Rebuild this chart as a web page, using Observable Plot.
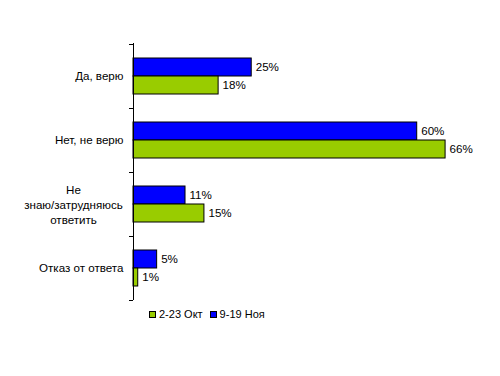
<!DOCTYPE html>
<html>
<head>
<meta charset="utf-8">
<script src="https://cdn.jsdelivr.net/npm/d3@7"></script>
<script src="https://cdn.jsdelivr.net/npm/@observablehq/plot@0.6"></script>
<style>
  body { margin: 0; background: #fff; font-family: "Liberation Sans", Arial, sans-serif; }
  #legend { display: flex; align-items: center; font-size: 11px; padding-left: 149px; height: 16px; margin-top: 0; }
  #legend .item { display: flex; align-items: center; margin-right: 7px; }
  #legend .sw { width: 5px; height: 5px; border: 1px solid #000; margin-right: 3px; }
</style>
</head>
<body>
<div id="chart"></div>
<div id="legend"></div>
<script>
const categories = ["Да, верю", "Нет, не верю", "Не\nзнаю/затрудняюсь\nответить", "Отказ от ответа"];
const series = ["2-23 Окт", "9-19 Ноя"];
const octValues = [18, 66, 15, 1];
const novValues = [25, 60, 11, 5];
const colors = ["#99CC00", "#0000FF"];

const octData = categories.map((c, i) => ({category: c, series: series[0], value: octValues[i]}));
const novData = categories.map((c, i) => ({category: c, series: series[1], value: novValues[i]}));

const font = {fontSize: 11.6, fontFamily: "Liberation Sans, Arial, sans-serif"};

const chart = Plot.plot({
  width: 500,
  height: 306,
  marginLeft: 133,
  marginRight: 36,
  marginTop: 43,
  marginBottom: 6,
  style: {fontSize: "11.6px", fontFamily: "Liberation Sans, Arial, sans-serif", color: "#000", background: "#fff"},
  x: {domain: [0, 70], axis: null},
  y: {domain: categories, padding: 0, axis: null},
  marks: [
    Plot.barX(novData, {x: "value", y: "category", fill: colors[1], stroke: "#000", strokeWidth: 1, insetTop: 14, insetBottom: 32}),
    Plot.barX(octData, {x: "value", y: "category", fill: colors[0], stroke: "#000", strokeWidth: 1, insetTop: 32, insetBottom: 14}),
    Plot.text(novData, {x: "value", y: "category", text: d => d.value + "%", textAnchor: "start", dx: 4, dy: -9, ...font}),
    Plot.text(octData, {x: "value", y: "category", text: d => d.value + "%", textAnchor: "start", dx: 4, dy: 9, ...font}),
    Plot.ruleX([0], {stroke: "#000"}),
    Plot.ruleY(categories, {y: d => d, x1: 0, x2: 0, insetLeft: -4, dy: -32, stroke: "#000"}),
    Plot.ruleY(categories.slice(-1), {y: d => d, x1: 0, x2: 0, insetLeft: -4, dy: 32, stroke: "#000"}),
    Plot.text(categories.filter(c => !c.includes("\n")), {y: d => d, text: d => d, frameAnchor: "left", textAnchor: "end", dx: -10, ...font}),
    Plot.text(categories.filter(c => c.includes("\n")), {y: d => d, text: d => d, frameAnchor: "left", textAnchor: "middle", dx: -60, lineHeight: 1.3, ...font})
  ]
});
document.getElementById("chart").appendChild(chart);

const legend = document.getElementById("legend");
series.forEach((s, i) => {
  const item = document.createElement("div");
  item.className = "item";
  const sw = document.createElement("div");
  sw.className = "sw";
  sw.style.background = colors[i];
  const label = document.createElement("span");
  label.textContent = s;
  item.appendChild(sw);
  item.appendChild(label);
  legend.appendChild(item);
});
</script>
</body>
</html>
